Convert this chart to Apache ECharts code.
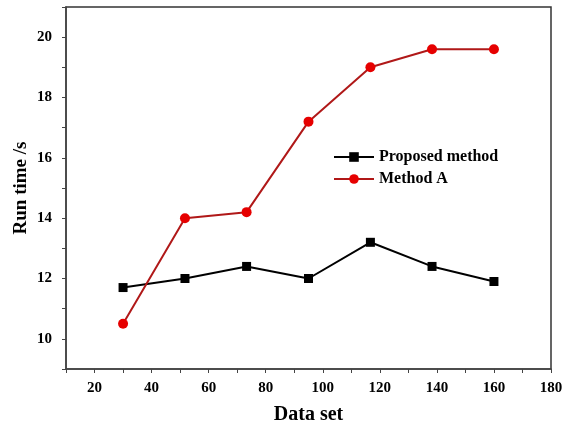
<!DOCTYPE html>
<html>
<head>
<meta charset="utf-8">
<script src="https://cdn.jsdelivr.net/npm/echarts@6/dist/echarts.min.js"></script>
<style>html,body{margin:0;padding:0;background:#fff}#c{width:562px;height:425px}</style>
</head>
<body>
<div id="c"></div>
<script>
const xValues = [30, 51.7, 73.3, 95, 116.7, 138.3, 160];
const proposed = [11.7, 12.0, 12.4, 12.0, 13.2, 12.4, 11.9];
const methodA = [10.5, 14.0, 14.2, 17.2, 19.0, 19.6, 19.6];
const seriesNames = ['Proposed method', 'Method A'];

const font = '"Liberation Serif", "Times New Roman", serif';
const chart = echarts.init(document.getElementById('c'));
const pair = (xs, ys) => xs.map((x, i) => [x, ys[i]]);
chart.setOption({
  animation: false,
  backgroundColor: '#fff',
  grid: { left: 66, right: 11, top: 7, bottom: 56, show: true, borderColor: '#333', borderWidth: 1.5, outerBoundsMode: 'none', containLabel: false },
  legend: {
    orient: 'vertical', left: 328, top: 144, itemWidth: 40, itemHeight: 12, itemGap: 6,
    textStyle: { fontFamily: font, fontWeight: 'bold', fontSize: 16, color: '#000' },
    data: seriesNames
  },
  xAxis: {
    type: 'value', min: 10, max: 180, interval: 10,
    name: 'Data set', nameLocation: 'middle', nameGap: 36, nameMoveOverlap: false,
    nameTextStyle: { fontFamily: font, fontWeight: 'bold', fontSize: 20, color: '#000' },
    axisLine: { show: true, lineStyle: { color: '#444', width: 1.5 } },
    axisTick: { show: true, length: 4, lineStyle: { color: '#444' } },
    splitLine: { show: false },
    axisLabel: {
      margin: 12, fontFamily: font, fontWeight: 'bold', fontSize: 15, color: '#000',
      formatter: v => (v % 20 === 0 ? String(v) : '')
    }
  },
  yAxis: {
    type: 'value', min: 9, max: 21, interval: 1,
    name: 'Run time /s', nameLocation: 'middle', nameGap: 35, nameMoveOverlap: false,
    nameTextStyle: { fontFamily: font, fontWeight: 'bold', fontSize: 19, color: '#000' },
    axisLine: { show: true, lineStyle: { color: '#444', width: 1.5 } },
    axisTick: { show: true, length: 4, lineStyle: { color: '#444' } },
    splitLine: { show: false },
    axisLabel: {
      margin: 14, fontFamily: font, fontWeight: 'bold', fontSize: 15, color: '#000',
      formatter: v => (v % 2 === 0 ? String(v) : '')
    }
  },
  series: [
    {
      name: seriesNames[0], type: 'line', data: pair(xValues, proposed),
      symbol: 'rect', symbolSize: 9,
      lineStyle: { color: '#000', width: 2 },
      itemStyle: { color: '#000' }
    },
    {
      name: seriesNames[1], type: 'line', data: pair(xValues, methodA),
      symbol: 'circle', symbolSize: 10,
      lineStyle: { color: '#b01818', width: 2 },
      itemStyle: { color: '#e60000' }
    }
  ]
});
</script>
</body>
</html>
